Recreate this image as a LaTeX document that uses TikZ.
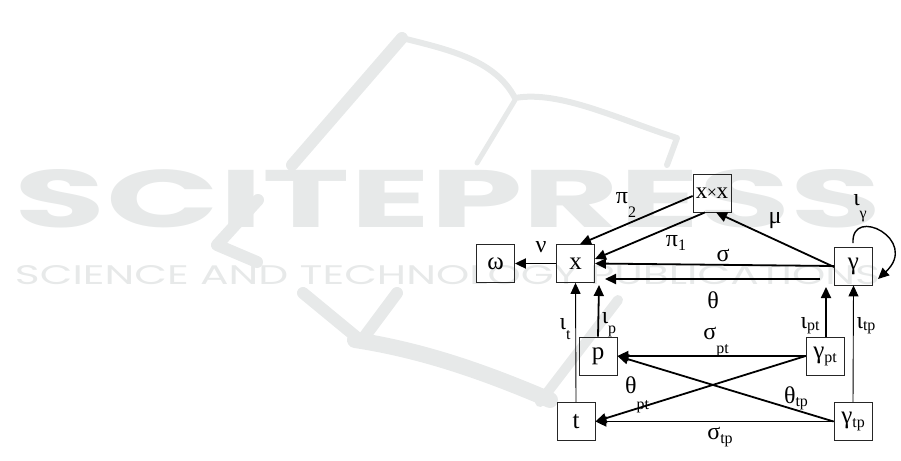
\documentclass[tikz,border=0pt]{standalone}
\usepackage{fontspec}
\setmainfont{Liberation Serif}
\newfontfamily\wmfont{Poppins}
\usetikzlibrary{arrows.meta,calc}
\definecolor{wm}{RGB}{231,233,233}
\newcommand{\lowsub}[2][-0.35ex]{\raisebox{#1}{\fontsize{16}{17}\selectfont #2}}
\begin{document}
\begin{tikzpicture}[x=1pt,y=-1pt,
  box/.style={draw=black!85,line width=0.8pt,minimum width=38pt,minimum height=38pt,inner sep=0pt,font=\fontsize{25}{27}\selectfont},
  arr/.style={-{Triangle[length=11pt,width=10pt]},line width=1.8pt},
  thinarr/.style={-{Triangle[length=11pt,width=10pt]},line width=0.9pt},
  lab/.style={font=\fontsize{24}{26}\selectfont,inner sep=0pt},
  wmline/.style={draw=wm,line cap=round,line join=round}]
\useasboundingbox (0,0) rectangle (901,460);
% watermark
\node[text=wm,inner sep=0pt] (wm1) at (448.5,199) {\resizebox{867pt}{58pt}{\wmfont\bfseries SCITEPRESS}};
\node[text=wm,inner sep=0pt] (wm2) at (447.5,275.5) {\resizebox{865pt}{19pt}{\wmfont SCIENCE AND TECHNOLOGY PUBLICATIONS}};
\draw[wmline,line width=12pt] (402,38) -- (292,165);
\draw[wmline,line width=6pt] (402,38) .. controls (450,50) and (495,60) .. (515,98);
\draw[wmline,line width=6pt] (515,98) .. controls (560,90) and (620,120) .. (677,138) -- (667,165);
\draw[wmline,line width=5pt] (515,100) -- (477,163);
\draw[wmline,line width=12pt] (258,200) -- (217,245) -- (257,262);
\draw[wmline,line width=12pt] (303,293) -- (360,340);
\draw[wmline,line width=12pt] (397,293) -- (365,336);
\draw[wmline,line width=16pt] (355,340) .. controls (420,350) and (480,370) .. (550,400);
\draw[wmline,line width=10pt] (540,402) -- (618,300);
% boxes
\node[box] (om) at (495.5,263.5) {ω};
\node[box] (X) at (575.5,263.5) {x};
\node[box] (XX) at (712,193) {\fontsize{23}{25}\selectfont x\kern-0.5pt{\fontsize{18}{20}\selectfont×}\kern-0.5pt x};
\node[box] (G) at (853.5,266) {γ};
\node[box] (P) at (598,356) {p};
\node[box] (T) at (576,421.5) {t};
\node[box] (Gpt) at (825,356) {γ\lowsub{pt}};
\node[box] (Gtp) at (853,421.5) {γ\lowsub{tp}};
% coordinates
\coordinate (thS) at (820,279);
\coordinate (thE) at (605,279);
\coordinate (lpS) at (853,243);
\coordinate (lpE) at (878,279);
\coordinate (ptIn) at (826,287);
\coordinate (pIn) at (599,285);
% arrows
\draw[arr] (X) -- (om);
\draw[arr] ([yshift=-3pt]XX.west) -- ([xshift=4.5pt]X.north);
\draw[arr] ([xshift=-7pt]XX.south) -- ([yshift=4.5pt]X.east);
\draw[arr] (G.west) -- (X.east);
\draw[arr,line width=2.2pt] (thS) -- (thE);
\draw[arr] ([yshift=-1pt]G.west) -- ([xshift=4pt]XX.south);
\draw[-{Triangle[length=11pt,width=10pt]},line width=1.4pt] (lpS) .. controls (851,205) and (920,240) .. (lpE);
\draw[arr] ([xshift=1pt]Gpt.north) -- (ptIn);
\draw[thinarr] (Gtp.north) -- (G.south);
\draw[thinarr] (T.north) -- (X.south);
\draw[arr] (P.north) -- (pIn);
\draw[arr] (Gpt.west) -- (P.east);
\draw[arr] (Gtp.west) -- (P.east);
\draw[arr] (Gpt.west) -- (T.east);
\draw[arr] (Gtp.west) -- (T.east);
% labels
\node[lab] (lnu) at (541,247) {ν};
\node[lab] (lpi2) at (626,205) {π\lowsub[-1.2ex]{2}};
\node[lab] (lpi1) at (676,243) {π\lowsub[-0.4ex]{1}};
\node[lab] (lmu) at (775,221) {μ};
\node[lab] (lsig) at (723,255) {σ};
\node[lab] (lth) at (713,300) {θ};
\node[lab] (lig) at (860,208) {ι\lowsub[-1.2ex]{γ}};
\node[lab] (lit) at (565,329) {ι\lowsub[-0.9ex]{t}};
\node[lab] (lip) at (609,325) {ι\lowsub[-0.9ex]{p}};
\node[lab] (lipt) at (810,326) {ι\lowsub[-0.2ex]{pt}};
\node[lab] (litp) at (866,326) {ι\lowsub[-0.2ex]{tp}};
\node[lab] (lspt) at (716,342) {σ\lowsub[-1.2ex]{pt}};
\node[lab] (ltpt) at (637,395) {θ\lowsub[-1.4ex]{pt}};
\node[lab] (lttp) at (796,398) {θ\lowsub[-0.3ex]{tp}};
\node[lab] (lstp) at (720,437) {σ\lowsub[-0.3ex]{tp}};
\end{tikzpicture}
\end{document}
